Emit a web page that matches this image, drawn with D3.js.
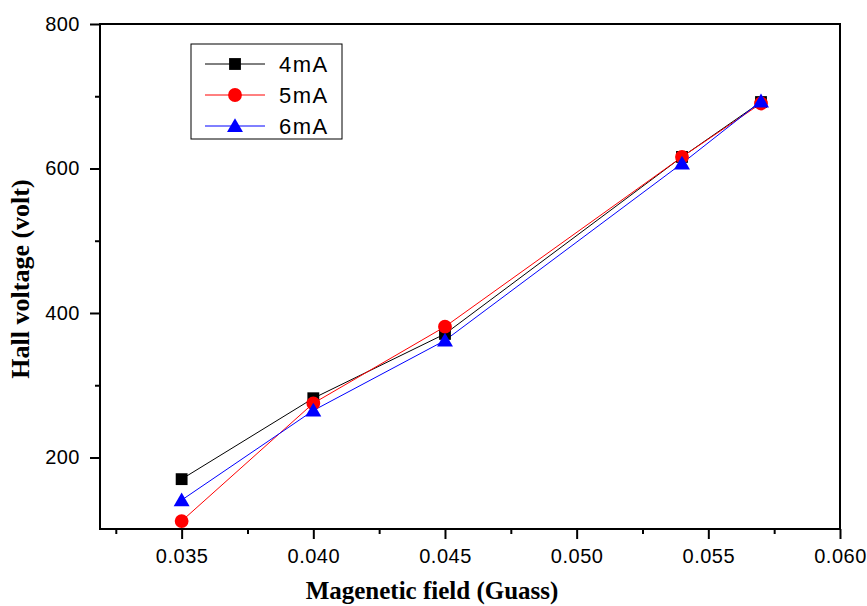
<!DOCTYPE html>
<html>
<head>
<meta charset="utf-8">
<script src="https://cdn.jsdelivr.net/npm/d3@7"></script>
<style>
  body { margin: 0; background: #fff; }
  svg { display: block; }
</style>
</head>
<body>
<div id="chart"></div>
<script>
// field values (Gauss) and hall voltage readings for each current
const field = [0.035, 0.040, 0.045, 0.054, 0.057]
const v4mA = [170, 282, 371, 616, 692]
const v5mA = [112, 275, 381, 616, 690]
const v6mA = [141, 265, 362, 607, 693]

const series = [
  { name: '4mA', values: v4mA, color: '#000000', symbol: d3.symbolSquare },
  { name: '5mA', values: v5mA, color: '#ff0000', symbol: d3.symbolCircle },
  { name: '6mA', values: v6mA, color: '#0000ff', symbol: d3.symbolTriangle }
]

const xMajor = [0.035, 0.040, 0.045, 0.050, 0.055, 0.060]
const xMinor = [0.0325, 0.0375, 0.0425, 0.0475, 0.0525, 0.0575]
const yMajor = [200, 400, 600, 800]
const yMinor = [300, 500, 700]

const width = 867
const height = 606
const margin = { top: 24, right: 27, bottom: 77, left: 100 }

const x = d3.scaleLinear().domain([0.0319, 0.060]).range([margin.left, width - margin.right])
const y = d3.scaleLinear().domain([101, 800]).range([height - margin.bottom, margin.top])

const svg = d3.select('#chart').append('svg')
  .attr('width', width)
  .attr('height', height)

// frame
svg.append('rect')
  .attr('x', margin.left)
  .attr('y', margin.top)
  .attr('width', width - margin.right - margin.left)
  .attr('height', height - margin.bottom - margin.top)
  .attr('fill', 'none')
  .attr('stroke', '#000')
  .attr('stroke-width', 2)

svg.append('g')
  .attr('transform', `translate(0,${height - margin.bottom})`)
  .call(d3.axisBottom(x).tickValues(xMajor).tickFormat(d3.format('.3f')).tickSize(10).tickPadding(10))
svg.append('g')
  .attr('transform', `translate(0,${height - margin.bottom})`)
  .call(d3.axisBottom(x).tickValues(xMinor).tickFormat('').tickSize(5))

svg.append('g')
  .attr('transform', `translate(${margin.left},0)`)
  .call(d3.axisLeft(y).tickValues(yMajor).tickSize(10).tickPadding(10))
svg.append('g')
  .attr('transform', `translate(${margin.left},0)`)
  .call(d3.axisLeft(y).tickValues(yMinor).tickFormat('').tickSize(5))

svg.selectAll('.domain').remove()
svg.selectAll('.tick line').attr('stroke', '#000').attr('stroke-width', 2)
svg.selectAll('.tick text')
  .attr('fill', '#000')
  .style('font-family', 'Arial, "Liberation Sans", sans-serif')
  .style('font-size', '20px')
  .style('letter-spacing', '0.5px')

// axis titles
svg.append('text')
  .attr('x', 432)
  .attr('y', 599)
  .attr('text-anchor', 'middle')
  .style('font-family', '"Liberation Serif", "Times New Roman", serif')
  .style('font-weight', 'bold')
  .style('font-size', '25px')
  .text('Magenetic field (Guass)')

svg.append('text')
  .attr('transform', 'translate(29,279) rotate(-90)')
  .attr('text-anchor', 'middle')
  .style('font-family', '"Liberation Serif", "Times New Roman", serif')
  .style('font-weight', 'bold')
  .style('font-size', '26px')
  .text('Hall voltage (volt)')

const line = d3.line()
  .x((d, i) => x(field[i]))
  .y(d => y(d))

series.forEach(s => {
  svg.append('path')
    .datum(s.values)
    .attr('fill', 'none')
    .attr('stroke', s.color)
    .attr('stroke-width', 1)
    .attr('d', line)
})

const markerSize = { '4mA': 140, '5mA': 150, '6mA': 110 }

series.forEach(s => {
  svg.append('g').selectAll('path')
    .data(s.values)
    .join('path')
    .attr('transform', (d, i) => `translate(${x(field[i])},${y(d) + (s.name === '6mA' ? 1.5 : 0)})`)
    .attr('d', d3.symbol().type(s.symbol).size(markerSize[s.name]))
    .attr('fill', s.color)
})

// legend
const legend = svg.append('g').attr('transform', 'translate(191,44)')
legend.append('rect')
  .attr('width', 151)
  .attr('height', 95)
  .attr('fill', '#fff')
  .attr('stroke', '#000')
  .attr('stroke-width', 1)

series.forEach((s, i) => {
  const g = legend.append('g').attr('transform', `translate(0,${20 + i * 31})`)
  g.append('line')
    .attr('x1', 14).attr('x2', 74)
    .attr('stroke', s.color)
    .attr('stroke-width', 1)
  g.append('path')
    .attr('transform', `translate(44,${s.name === '6mA' ? 1.5 : 0})`)
    .attr('d', d3.symbol().type(s.symbol).size(markerSize[s.name]))
    .attr('fill', s.color)
  g.append('text')
    .attr('x', 88)
    .attr('y', 8)
    .style('font-family', 'Arial, "Liberation Sans", sans-serif')
    .style('font-size', '22px')
    .style('letter-spacing', '1.5px')
    .text(s.name)
})
</script>
</body>
</html>
